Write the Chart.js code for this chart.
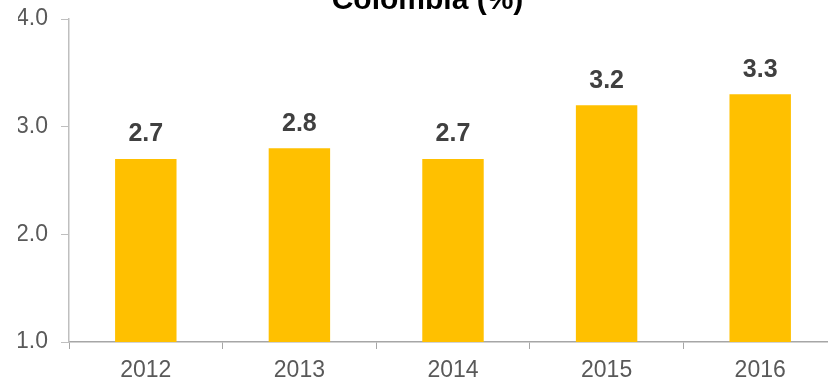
<!DOCTYPE html>
<html>
<head>
<meta charset="utf-8">
<script src="https://cdn.jsdelivr.net/npm/chart.js@4/dist/chart.umd.min.js"></script>
<style>
  html, body { margin: 0; padding: 0; background: #fff; overflow: hidden; width: 828px; height: 385px; }
  #wrap { position: absolute; left: 0; top: -30px; }
  canvas { display: block; }
</style>
</head>
<body>
<div id="wrap"><canvas id="c" width="837" height="415"></canvas></div>
<script>
const titleText = 'Colombia (%)';
const years = ['2012', '2013', '2014', '2015', '2016'];
const values = [2.7, 2.8, 2.7, 3.2, 3.3];
const yTicks = [1, 2, 3, 4];

const FONT = "'Liberation Sans', Arial, Helvetica, sans-serif";

// Bold value printed above each bar
const valueLabels = {
  id: 'valueLabels',
  afterDatasetsDraw(chart) {
    const ctx = chart.ctx;
    const meta = chart.getDatasetMeta(0);
    ctx.save();
    ctx.font = 'bold 25px ' + FONT;
    ctx.fillStyle = '#404040';
    ctx.textAlign = 'center';
    ctx.textBaseline = 'alphabetic';
    meta.data.forEach((bar, i) => {
      ctx.fillText(values[i].toFixed(1), bar.x, bar.y - 17.5);
    });
    ctx.restore();
  }
};

new Chart(document.getElementById('c'), {
  type: 'bar',
  data: {
    labels: years,
    datasets: [{
      data: values,
      backgroundColor: '#FFC000',
      borderWidth: 0,
      barPercentage: 0.4,
      categoryPercentage: 1.0
    }]
  },
  options: {
    responsive: false,
    animation: false,
    devicePixelRatio: 1,
    layout: { padding: { left: 18, right: 0, top: 0, bottom: 0 } },
    plugins: {
      legend: { display: false },
      tooltip: { enabled: false },
      title: {
        display: true,
        text: titleText,
        color: '#000000',
        font: { family: FONT, size: 30, weight: 'bold' },
        padding: { top: 13, bottom: 0 }
      }
    },
    scales: {
      x: {
        grid: {
          display: true,
          drawOnChartArea: false,
          drawTicks: true,
          tickLength: 7,
          offset: true,
          color: '#a6a6a6'
        },
        border: { display: true, color: '#a6a6a6', width: 1.5 },
        ticks: {
          color: '#595959',
          font: { family: FONT, size: 23 },
          padding: 8,
          maxRotation: 0
        },
        afterFit(scale) { scale.height = 43; }
      },
      y: {
        min: 1,
        max: 4,
        afterBuildTicks(scale) { scale.ticks = yTicks.map(v => ({ value: v })); },
        grid: {
          display: true,
          drawOnChartArea: false,
          drawTicks: true,
          tickLength: 8,
          color: '#bfbfbf'
        },
        border: { display: true, color: '#bfbfbf', width: 1.5 },
        ticks: {
          color: '#595959',
          font: { family: FONT, size: 23 },
          padding: 13,
          callback: v => Number(v).toFixed(1)
        },
        afterFit(scale) { scale.width = 51; }
      }
    }
  },
  plugins: [valueLabels]
});
</script>
</body>
</html>
